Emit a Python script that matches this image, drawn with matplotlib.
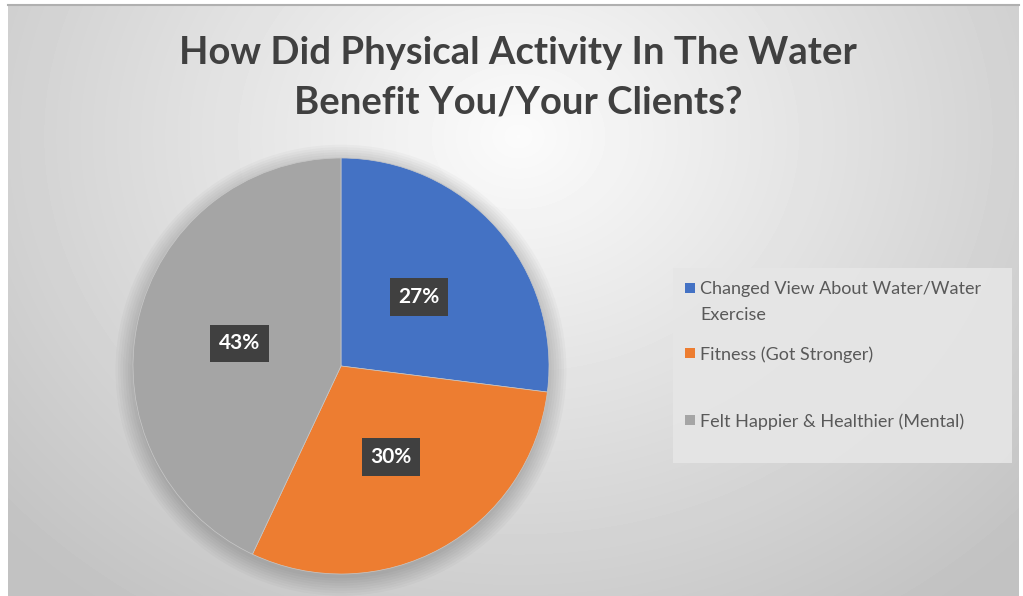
import matplotlib.pyplot as plt
import numpy as np
from matplotlib.patches import Rectangle, Circle

# data
categories = ["Changed View About Water/Water\nExercise",
              "Fitness (Got Stronger)",
              "Felt Happier & Healthier (Mental)"]
shares = [27, 30, 43]
colors = ["#4472C4", "#ED7D31", "#A5A5A5"]
title = "How Did Physical Activity In The Water\nBenefit You/Your Clients?"

W, H = 1023, 596
fig = plt.figure(figsize=(W / 100, H / 100), dpi=100)
fig.patch.set_facecolor("white")
plt.rcParams['font.family'] = ['Lato', 'DejaVu Sans']

# background: radial gray gradient for the chart area
bg = fig.add_axes([8 / W, 0, (1019 - 8) / W, (596 - 6) / H])
bg.set_axis_off()
yy, xx = np.mgrid[0:590, 0:1011]
d = np.sqrt(((xx - 510) / 620.0) ** 2 + ((yy - 130) / 520.0) ** 2)
shade = np.clip(0.985 - 0.2 * d, 0.76, 1.0)
bg.imshow(shade, cmap="gray", vmin=0, vmax=1, aspect="auto", interpolation="bilinear")
fig.add_artist(plt.Line2D([8 / W, 1019 / W], [1 - 5 / H, 1 - 5 / H],
                          color="#b0b0b0", lw=1.5))

# pie
cx, cy, r = 341, 596 - 366, 208
ax = fig.add_axes([(cx - r) / W, (cy - r) / H, 2 * r / W, 2 * r / H])
ax.set_axis_off()
# soft shadow under the pie
for k in range(8):
    ax.add_patch(Circle((0.0, -0.02), 1.0 + 0.012 * k, color="black",
                        alpha=0.022, lw=0, zorder=0, clip_on=False))
wedges, texts, autotexts = ax.pie(
    shares, colors=colors, startangle=90, counterclock=False,
    autopct="%d%%", pctdistance=0.5, radius=1,
    wedgeprops=dict(linewidth=0.5, edgecolor="#c8c8c8"),
    textprops=dict(color="white", fontsize=15, fontweight="bold"))
for w in wedges:
    w.set_zorder(2)
for t in autotexts:
    t.set_zorder(5)
    t.set_bbox(dict(boxstyle="square,pad=0.42", facecolor="#404040",
                    edgecolor="none"))
ax.set_xlim(-1, 1)
ax.set_ylim(-1, 1)

# title
fig.text(518 / W, 1 - 78 / H, title, ha="center", va="center",
         fontsize=27.5, fontweight="bold", color="#404040", linespacing=1.55)

# legend drawn by hand to keep the Excel spacing
fig.add_artist(Rectangle((673 / W, 1 - 463 / H), (1012 - 673) / W, (463 - 268) / H,
                         transform=fig.transFigure, facecolor="#e6e6e6",
                         edgecolor="none", alpha=0.9))
legend_y = [288, 353, 420]
for lab, col, y in zip(categories, colors, legend_y):
    fig.add_artist(Rectangle((685 / W, 1 - (y + 5) / H), 10 / W, 10 / H,
                             transform=fig.transFigure, facecolor=col,
                             edgecolor="none"))
    fig.text(700 / W, 1 - (y - 7) / H, lab, ha="left", va="top",
             fontsize=13, color="#595959", linespacing=1.75)

fig.savefig("out.png", dpi=100)
